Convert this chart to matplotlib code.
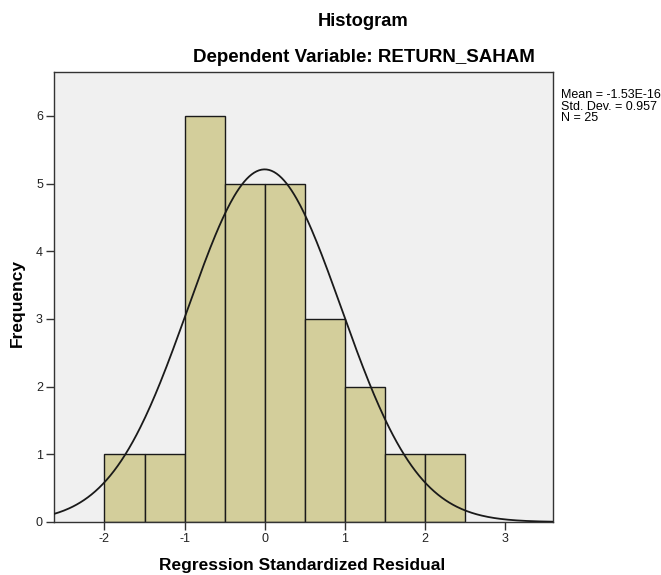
import matplotlib
matplotlib.use("Agg")
import matplotlib.pyplot as plt
import numpy as np

plt.rcParams['font.family'] = ['Liberation Sans', 'DejaVu Sans']
plt.rcParams['axes.unicode_minus'] = False

# histogram of standardized residuals (bin edges and counts)
bin_edges = [-2.0, -1.5, -1.0, -0.5, 0.0, 0.5, 1.0, 1.5, 2.0, 2.5]
counts = [1, 1, 6, 5, 5, 3, 2, 1, 1]
mean = -1.53e-16
std = 0.957
n = 25

fig = plt.figure(figsize=(6.61, 5.75), dpi=100)
ax = fig.add_axes([0.0817, 0.0922, 0.7549, 0.7826])
ax.set_facecolor("#f0f0f0")

widths = np.diff(bin_edges)
ax.bar(bin_edges[:-1], counts, width=widths, align="edge",
       color="#d3ce9b", edgecolor="#1a1a1a", linewidth=1.0, zorder=2)

# normal curve scaled to the histogram
xs = np.linspace(-2.63, 3.6, 400)
bw = widths[0]
ys = n * bw / (std * np.sqrt(2 * np.pi)) * np.exp(-0.5 * ((xs - mean) / std) ** 2)
ax.plot(xs, ys, color="#1a1a1a", linewidth=1.3, zorder=3)

ax.set_xlim(-2.63, 3.6)
ax.set_ylim(0, 6.65)
ax.set_xticks([-2, -1, 0, 1, 2, 3])
ax.set_yticks(range(0, 7))
ax.tick_params(labelsize=9, length=6, width=1, pad=2, color="#333333", labelcolor="#222222")
for s in ax.spines.values():
    s.set_color("#333333")
    s.set_linewidth(1.0)

fig.text(0.027, 0.473, "Frequency", rotation=90, ha="center", va="center",
         fontsize=12.5, fontweight="bold")
fig.text(0.457, 0.017, "Regression Standardized Residual", ha="center", va="center",
         fontsize=12.5, fontweight="bold")
fig.text(0.549, 0.963, "Histogram", ha="center", va="center",
         fontsize=13.2, fontweight="bold")
fig.text(0.551, 0.900, "Dependent Variable: RETURN_SAHAM", ha="center", va="center",
         fontsize=13.5, fontweight="bold")

stats = f"Mean = {mean:.2E}\nStd. Dev. = {std}\nN = {n}"
fig.text(0.848, 0.845, stats, ha="left", va="top", fontsize=9, linespacing=0.95)

fig.savefig("out.png", dpi=100, facecolor="white")
